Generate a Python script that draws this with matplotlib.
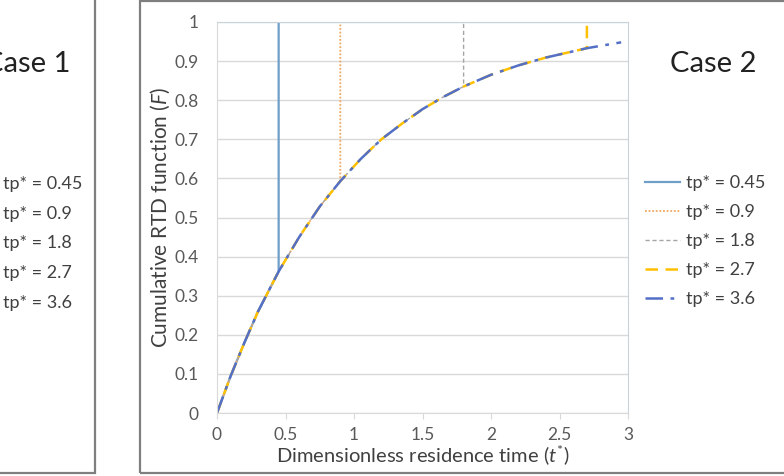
import matplotlib
matplotlib.use('Agg')
import matplotlib.pyplot as plt
from matplotlib.patches import Rectangle

plt.rcParams['font.family'] = ['Lato', 'DejaVu Sans']
plt.rcParams['mathtext.fontset'] = 'custom'
plt.rcParams['mathtext.rm'] = 'Lato'
plt.rcParams['mathtext.it'] = 'Lato:italic'

# cumulative RTD curve
t_vals = [0, 0.1, 0.2, 0.3, 0.45, 0.6, 0.75, 0.9, 1.05, 1.2, 1.35, 1.5, 1.65, 1.8,
          2.0, 2.2, 2.4, 2.7, 2.95]
F_vals = [0, 0.095, 0.18, 0.26, 0.362, 0.45, 0.528, 0.593, 0.65, 0.70, 0.74, 0.777,
          0.808, 0.835, 0.865, 0.889, 0.909, 0.933, 0.948]

tp_vals = [0.45, 0.9, 1.8, 2.7, 3.6]
labels = ['tp* = 0.45', 'tp* = 0.9', 'tp* = 1.8', 'tp* = 2.7', 'tp* = 3.6']
colors = ['#6F9FC9', '#F0A860', '#A5A5A5', '#FFC000', '#5470C6']
styles = ['-', (0, (1, 1)), (0, (3, 2)), (0, (5, 3)), (0, (7, 3, 1.5, 3))]
widths = [1.6, 1.3, 1.0, 1.8, 1.8]

fig = plt.figure(figsize=(7.84, 4.76), dpi=100)
ax = fig.add_axes([217/784, 1 - 413/476, 411/784, 391/476])

lines = []
for tp, lab, c, ls, lw in zip(tp_vals, labels, colors, styles, widths):
    xs = [t for t in t_vals if t <= tp]
    ys = F_vals[:len(xs)]
    if tp <= 3:  # pulse ends inside the window -> jump to 1
        xs = xs + [tp]
        ys = ys + [1.0]
    ln, = ax.plot(xs, ys, color=c, ls=ls, lw=lw, label=lab)
    lines.append(ln)

ax.set_xlim(0, 3)
ax.set_ylim(0, 1)
ax.set_xticks([0, 0.5, 1, 1.5, 2, 2.5, 3])
ax.set_xticklabels(['0', '0.5', '1', '1.5', '2', '2.5', '3'])
ax.set_yticks([i/10 for i in range(11)])
ax.set_yticklabels(['0', '0.1', '0.2', '0.3', '0.4', '0.5', '0.6', '0.7', '0.8', '0.9', '1'])
ax.grid(axis='y', color='#D9D9D9', lw=1)
ax.set_axisbelow(True)
for s in ax.spines.values():
    s.set_color('#C9D3DC')
ax.spines['bottom'].set_color('#D9D9D9')
ax.spines['left'].set_color('#D9D9D9')
ax.tick_params(axis='y', length=0, pad=13, labelsize=12.5, labelcolor='#595959')
ax.tick_params(axis='x', length=4, color='#D9D9D9', pad=6, labelsize=12.5, labelcolor='#595959')
ax.set_ylabel('Cumulative RTD function ($\\mathit{F}$)', fontsize=15, color='#404040', labelpad=2)
ax.set_xlabel('Dimensionless residence time ($\\mathit{t}^{*}$)', fontsize=14.5, color='#404040', labelpad=0)

fig.legend(handles=lines, loc='upper left', bbox_to_anchor=(645/784, 1 - 175/476),
           frameon=False, fontsize=13, handlelength=1.95, handletextpad=0.3,
           labelspacing=0.72, borderpad=0, borderaxespad=0, labelcolor='#404040')

fig.text(713/784, 1 - 64/476, 'Case 2', fontsize=21, ha='center', va='center', color='#222222')

# cut-off left panel
fig.text(70/784, 1 - 64/476, 'Case 1', fontsize=21, ha='right', va='center', color='#222222')
for i, lab in enumerate(labels):
    fig.text(3/784, 1 - (184 + 29.7*i)/476, lab, fontsize=13, va='center', color='#404040')

frame_kw = dict(transform=fig.transFigure, fill=False, edgecolor='#7F7F7F', lw=1.6, clip_on=False)
fig.add_artist(Rectangle((-0.05, 3/476), 95/784 + 0.05, 1.1, **frame_kw))
fig.add_artist(Rectangle((140/784, 3/476), 1.0, 1 - 4/476, **frame_kw))

fig.savefig('out.png', dpi=100)
